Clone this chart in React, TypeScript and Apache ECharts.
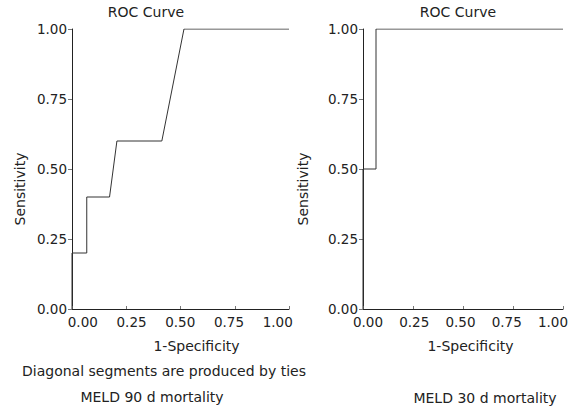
import React, { useEffect, useRef } from "react";
import * as echarts from "echarts";

// Panel 1: MELD 90 d mortality ROC curve (1-Specificity, Sensitivity)
const leftFpr = [0, 0, 0.068, 0.068, 0.173, 0.207, 0.414, 0.516, 1];
const leftTpr = [0, 0.2, 0.2, 0.4, 0.4, 0.6, 0.6, 1, 1];
// Panel 2: MELD 30 d mortality ROC curve
const rightFpr = [0, 0, 0.065, 0.065, 1];
const rightTpr = [0, 0.5, 0.5, 1, 1];

const tickValues = [0, 0.25, 0.5, 0.75, 1];
const titleText = "ROC Curve";
const yName = "Sensitivity";
const xName = "1-Specificity";
const noteText = "Diagonal segments are produced by ties";
const leftCaption = "MELD 90 d mortality";
const rightCaption = "MELD 30 d mortality";

const FONT = "DejaVu Sans";
const TXT = "#222";

export default function App() {
  const ref = useRef<HTMLDivElement>(null);
  useEffect(() => {
    document.body.style.margin = "0";
    const chart = echarts.init(ref.current!, null, { renderer: "svg" });
    const mainX = (gridIndex: number) => ({
      type: "value",
      gridIndex,
      min: 0,
      max: 1,
      interval: 0.25,
      axisLine: { show: true, lineStyle: { color: "#222", width: 1 } },
      axisTick: { show: true, inside: true, length: 3, lineStyle: { color: "#777" } },
      axisLabel: { show: false },
      splitLine: { show: false },
    });
    const labelX = (gridIndex: number, min: number, max: number) => ({
      type: "value",
      gridIndex,
      min,
      max,
      position: "bottom",
      axisLine: { show: false },
      axisTick: { show: false },
      splitLine: { show: false },
      axisLabel: {
        show: true,
        customValues: tickValues,
        formatter: (v: number) => v.toFixed(2),
        fontFamily: FONT,
        fontSize: 13.5,
        color: TXT,
        margin: 6,
      },
    });
    const yAx = (gridIndex: number) => ({
      type: "value",
      gridIndex,
      min: 0,
      max: 1,
      interval: 0.25,
      axisLine: { show: true, lineStyle: { color: "#222", width: 1 } },
      axisTick: { show: true, inside: false, length: 4, lineStyle: { color: "#777" } },
      axisLabel: {
        formatter: (v: number) => v.toFixed(2),
        fontFamily: FONT,
        fontSize: 13.5,
        color: TXT,
        margin: 5,
      },
      splitLine: { show: false },
    });
    const txt = (text: string, x: number, y: number, extra: any = {}) => ({
      type: "text",
      x,
      y,
      ...extra,
      style: {
        text,
        fill: TXT,
        font: `14px "${FONT}"`,
        align: "center",
        verticalAlign: "middle",
      },
    });
    chart.setOption({
      animation: false,
      grid: [
        { left: 72, top: 29, width: 217, height: 280 },
        { left: 363, top: 29, width: 200, height: 280 },
      ],
      xAxis: [
        mainX(0),
        labelX(0, -0.0555, 1.058),
        mainX(1),
        labelX(1, -0.027, 1.054),
      ],
      yAxis: [yAx(0), yAx(1)],
      series: [
        {
          type: "line",
          xAxisIndex: 0,
          yAxisIndex: 0,
          showSymbol: false,
          lineStyle: { color: "#333", width: 1 },
          data: leftFpr.map((x, i) => [x, leftTpr[i]]),
        },
        {
          type: "line",
          xAxisIndex: 2,
          yAxisIndex: 1,
          showSymbol: false,
          lineStyle: { color: "#333", width: 1 },
          data: rightFpr.map((x, i) => [x, rightTpr[i]]),
        },
      ],
      graphic: [
        txt(titleText, 146, 12),
        txt(titleText, 458, 12),
        txt(yName, 20, 189, { rotation: Math.PI / 2 }),
        txt(yName, 303, 189, { rotation: Math.PI / 2 }),
        txt(xName, 196.5, 346),
        txt(xName, 470.5, 346),
        txt(noteText, 164, 371),
        txt(leftCaption, 152, 397),
        txt(rightCaption, 485, 398),
      ],
    });
    return () => chart.dispose();
  }, []);
  return <div ref={ref} style={{ width: 581, height: 408 }} />;
}
